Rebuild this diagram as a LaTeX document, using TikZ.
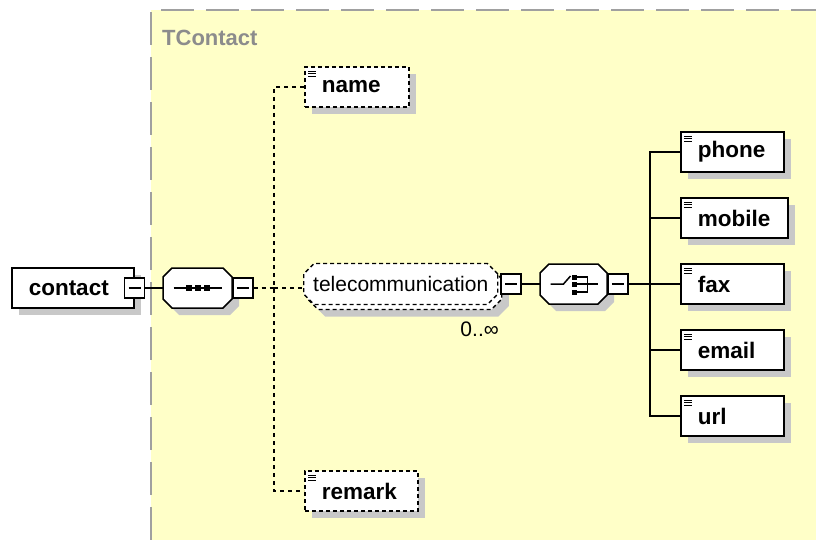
\documentclass[tikz,border=0pt]{standalone}
\usepackage{fontspec}
\setmainfont{Liberation Sans}
\usetikzlibrary{positioning,shapes.misc,shadows}
\definecolor{typebg}{HTML}{FFFFC8}
\definecolor{typeline}{HTML}{A0A0A0}
\definecolor{typetext}{HTML}{8C8C8C}
\definecolor{shadowgray}{HTML}{C8C8C8}
\tikzset{
  boxshadow/.style={
    drop shadow={shadow xshift=7pt, shadow yshift=-7pt, fill=shadowgray, opacity=1}},
  root/.style={
    draw, line width=1.5pt, fill=white, boxshadow, anchor=west,
    minimum height=40pt, text width=88pt, inner xsep=17pt, inner ysep=0pt,
    font=\bfseries\fontsize{22.5}{26}\selectfont},
  elem/.style={
    draw, line width=1.5pt, fill=white, boxshadow, anchor=west,
    minimum height=40pt, text width=#1, inner xsep=17pt, inner ysep=0pt,
    font=\bfseries\fontsize{22.5}{26}\selectfont,
    path picture={
      \foreach \k in {0,1,2}
        \draw[solid, line width=0.9pt]
          ([shift={(3.5pt,-4pt-\k*2.5pt)}]path picture bounding box.north west) -- ++(8pt,0pt);}},
  elem/.default=69pt,
  optelem/.style={elem=#1, dash pattern=on 4pt off 3pt},
  optelem/.default=70pt,
  multielem/.style={
    chamfered rectangle, chamfered rectangle xsep=7pt, draw, line width=1.4pt, fill=white,
    dash pattern=on 4pt off 3pt, anchor=west, minimum height=41pt,
    inner xsep=2.5pt, inner ysep=0pt, font=\fontsize{21}{24}\selectfont,
    drop shadow={shadow xshift=11pt, shadow yshift=-12pt, fill=shadowgray, opacity=1},
    copy shadow={shadow xshift=4pt, shadow yshift=-5pt, draw=black, fill=white,
      line width=1.4pt, dash pattern=on 4pt off 3pt}},
  compositor/.style={
    anchor=west, minimum height=40pt, minimum width=#1, inner sep=0pt, outer sep=0pt},
  minusbox/.style={
    draw, line width=1.5pt, fill=white, minimum size=20pt, inner sep=0pt, anchor=west,
    path picture={\draw[solid, line width=1.2pt]
      ([xshift=4pt]path picture bounding box.west) -- ([xshift=-4pt]path picture bounding box.east);}},
  link/.style={draw, line width=1.5pt},
  optlink/.style={draw, line width=1.5pt, dash pattern=on 4pt off 4pt},
  typelabel/.style={font=\bfseries\fontsize{22}{26}\selectfont, text=typetext, anchor=west, inner sep=0pt},
  occurs/.style={font=\fontsize{21}{24}\selectfont, inner sep=0pt},
}
% octagon outline round a compositor node
\newcommand{\octframe}[2][9pt]{%
  \draw[link, fill=white, boxshadow]
    ([xshift=#1]#2.north west) -- ([xshift=-#1]#2.north east)
    -- ([yshift=-#1]#2.north east) -- ([yshift=#1]#2.south east)
    -- ([xshift=-#1]#2.south east) -- ([xshift=#1]#2.south west)
    -- ([yshift=#1]#2.south west) -- ([yshift=-#1]#2.north west) -- cycle;}
\begin{document}
\begin{tikzpicture}[x=1pt, y=-1pt]
  \useasboundingbox (0,0) rectangle (816,540);

  % complex type area
  \fill[typebg] (151,10) rectangle (816,540);
  \draw[typeline, line width=2pt, dash pattern=on 33pt off 12pt] (151,540) -- (151,10) -- (816,10);
  \node[typelabel] (tname) at (162,38) {TContact};

  % root element and sequence
  \node[root] (ct) at (11,288) {contact};
  \node[minusbox, anchor=center] (ctm) at (ct.east) {};
  \node[compositor=69pt] (sq) at (163,288) {};
  \octframe{sq}
  \node[minusbox] (sqm) at (sq.east) {};
  \begin{scope}[shift={(sq.center)}]
    \draw[link] (-24,0) -- (24,0);
    \foreach \dx in {-9,0,9}
      \fill (\dx-3,-3) rectangle (\dx+3,3);
  \end{scope}
  \draw[link] (ctm.east) -- (sq.west);

  % children of the sequence
  \node[optelem] (nm) at (304,87) {name};
  \node[multielem] (tc) at (303,284) {telecommunication};
  \node[minusbox] (tcm) at ([xshift=2pt]tc.east) {};
  \node[occurs, anchor=north east] (occ) at (499,322) {0..∞};
  \node[optelem=79pt] (rm) at (304,491) {remark};

  \coordinate (sj) at (274,288);
  \draw[optlink] (sqm.east) -- (sj);
  \draw[optlink] (nm.west) -| (sj) |- (rm.west);
  \draw[optlink] (sj) -- (sj -| tc.west);

  % choice
  \node[compositor=67pt] (ch) at (540,284) {};
  \octframe{ch}
  \node[minusbox] (chm) at (ch.east) {};
  \begin{scope}[shift={(ch.center)}]
    \draw[link] (-23,0) -- (-10,0) -- (-3,-8);
    \foreach \dy in {-7,0,8}
      \fill (-1.5,\dy-2.5) rectangle (3.5,\dy+2.5);
    \draw[link] (3,-7) -- (14,-7) -- (14,8) -- (3,8);
    \draw[link] (3,0) -- (24,0);
  \end{scope}
  \draw[link] (tcm.east) -- (ch.west);

  % children of the choice
  \node[elem] (ph) at (680,152) {phone};
  \node[elem=73pt, below=24.5pt of ph.south west, anchor=north west] (mb) {mobile};
  \node[elem, below=24.5pt of mb.south west, anchor=north west] (fx) {fax};
  \node[elem, below=24.5pt of fx.south west, anchor=north west] (em) {email};
  \node[elem, below=24.5pt of em.south west, anchor=north west] (ul) {url};

  \coordinate (cj) at (650,284);
  \draw[link] (chm.east) -- (fx.west);
  \draw[link] (ph.west) -| (cj) |- (ul.west);
  \draw[link] (mb.west) -- (mb.west -| cj);
  \draw[link] (em.west) -- (em.west -| cj);

\end{tikzpicture}
\end{document}
